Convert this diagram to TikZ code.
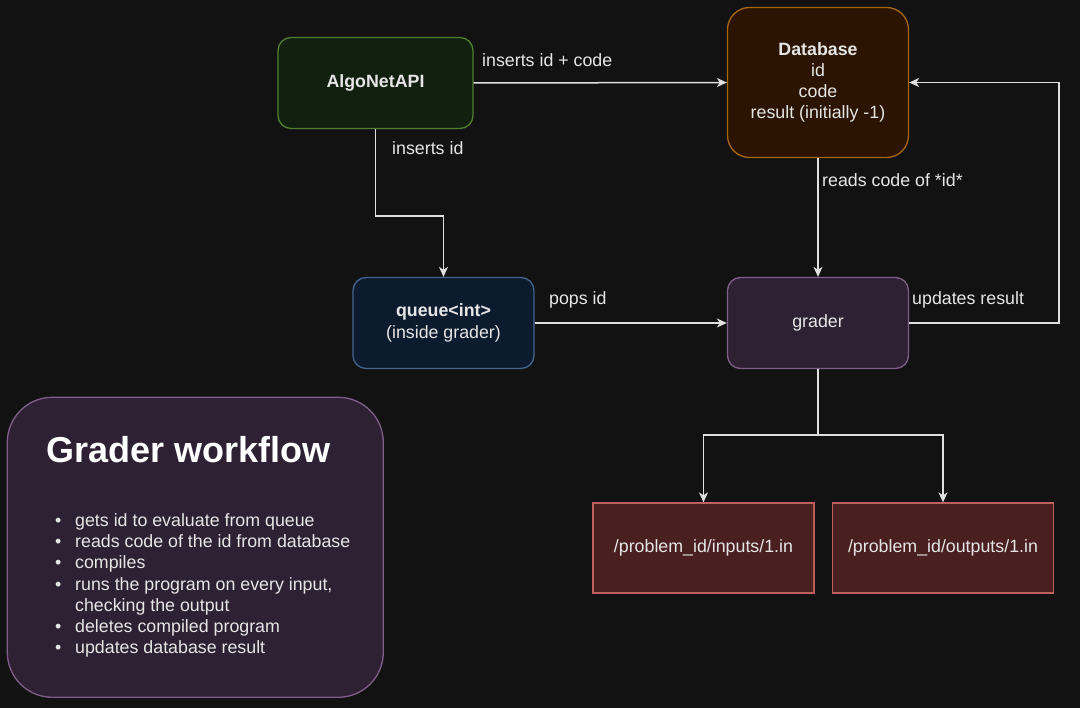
\documentclass[tikz,border=0pt]{standalone}
\usepackage{fontspec}
\setmainfont{Liberation Sans}
\usetikzlibrary{arrows.meta,positioning}

\definecolor{bg}{HTML}{121212}
\definecolor{txt}{HTML}{E6E6E6}
\definecolor{wire}{HTML}{E0E0E0}
\definecolor{apifill}{HTML}{11200F}
\definecolor{apiline}{HTML}{4F7F2F}
\definecolor{dbfill}{HTML}{2B1402}
\definecolor{dbline}{HTML}{A8670F}
\definecolor{qfill}{HTML}{0D1B2E}
\definecolor{qline}{HTML}{43648F}
\definecolor{grfill}{HTML}{2F2134}
\definecolor{grline}{HTML}{7F5F8A}
\definecolor{filefill}{HTML}{4A1F1F}
\definecolor{fileline}{HTML}{C0605E}

\newcommand{\txtsize}{\fontsize{17.8}{21.2}\selectfont}
\newcommand{\wfitem}{\makebox[20pt][l]{\textbullet}}

\tikzset{
  box/.style={rounded corners=13pt, line width=1.3pt, inner sep=0pt,
    minimum width=181pt, minimum height=91pt, align=center, text=txt, font=\txtsize},
  filebox/.style={box, rounded corners=0pt, fill=filefill, draw=fileline,
    minimum width=221pt, minimum height=90pt},
  flow/.style={draw=wire, line width=1.5pt,
    -{Stealth[length=10pt,width=9pt,inset=3pt]}},
  lbl/.style={anchor=base west, inner sep=0pt, text=txt, font=\txtsize},
}

\begin{document}
\begin{tikzpicture}[x=1pt,y=-1pt]
  \useasboundingbox[fill=bg] (0,0) rectangle (1080,708);

  % services
  \node[box, fill=apifill, draw=apiline, minimum width=195pt] (api) at (375.5,83) {\textbf{AlgoNetAPI}};
  \node[box, fill=dbfill, draw=dbline, minimum height=150pt, rounded corners=22pt] (db) at (818,82.5)
    {\textbf{Database}\\id\\code\\result (initially -1)};
  \node[box, fill=qfill, draw=qline] (queue) at (443.5,323) {\textbf{queue<int>}\\(inside grader)};
  \node[box, fill=grfill, draw=grline] (grader) at (818,323) {grader};

  % files
  \node[filebox] (inputs) at (703.5,548) {/problem\_id/inputs/1.in};
  \node[filebox] (outputs) at (943,548) {/problem\_id/outputs/1.in};

  % connectors
  \draw[flow] (api.east) -- (db.west);
  \draw[flow] (api.south) -- ++(0,87) -| (queue.north);
  \draw[flow] (db.south) -- (grader.north);
  \draw[flow] (queue.east) -- (grader.west);
  \draw[flow] (grader.east) -- ++(150,0) |- (db.east);
  \coordinate (split) at (818,435);
  \draw[draw=wire, line width=1.5pt] (grader.south) -- (split);
  \draw[flow] (split) -| (inputs.north);
  \draw[flow] (split) -| (outputs.north);

  % labels
  \node[lbl] (l1) at (482,66.5) {inserts id + code};
  \node[lbl] (l2) at (392,154.5) {inserts id};
  \node[lbl] (l3) at (822,187) {reads code of *id*};
  \node[lbl] (l4) at (549,305) {pops id};
  \node[lbl] (l5) at (912,305) {updates result};

  % workflow panel
  \node[box, fill=grfill, draw=grline, rounded corners=45pt,
    minimum width=376pt, minimum height=300pt] (panel) at (195.3,547.3) {};
  \node[anchor=base west, inner sep=0pt, text=white,
    font=\fontsize{36}{40}\selectfont\bfseries] (title) at (46,462.7) {Grader workflow};
  \node[anchor=north west, inner sep=0pt, text=txt, font=\txtsize, align=left] (steps) at (55,513.5)
    {\wfitem gets id to evaluate from queue\\
     \wfitem reads code of the id from database\\
     \wfitem compiles\\
     \wfitem runs the program on every input,\\
     \hspace*{20pt}checking the output\\
     \wfitem deletes compiled program\\
     \wfitem updates database result};
\end{tikzpicture}
\end{document}
